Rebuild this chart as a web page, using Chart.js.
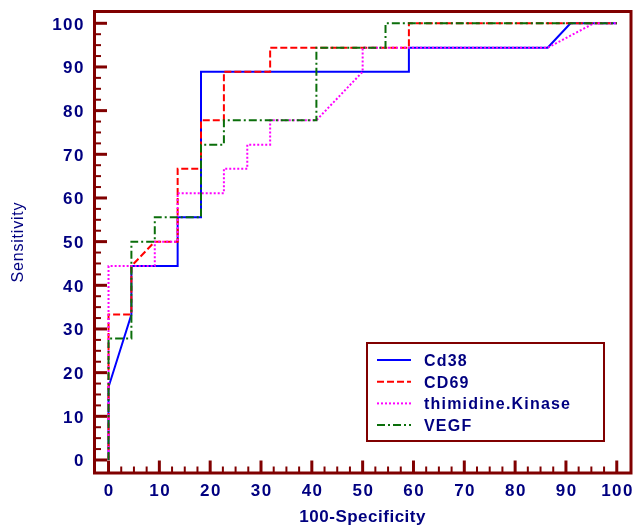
<!DOCTYPE html>
<html>
<head>
<meta charset="utf-8">
<script src="https://cdn.jsdelivr.net/npm/chart.js@4"></script>
<style>
    body { margin: 0; background: #ffffff; }
    canvas { display: block; }
</style>
</head>
<body>
<canvas id="myChart" width="633" height="526"></canvas>
<script>
// series names, as in the legend
const seriesNames = ["Cd38", "CD69", "thimidine.Kinase", "VEGF"];

// 100-Specificity (x) and Sensitivity (y) of each ROC curve
const cd38X = [0, 0, 4.5, 4.5, 13.6, 13.6, 18.2, 18.2, 59.1, 59.1, 86.4, 90.9, 100];
const cd38Y = [0, 16.7, 33.3, 44.4, 44.4, 55.6, 55.6, 88.9, 88.9, 94.4, 94.4, 100, 100];

const cd69X = [0, 0, 4.5, 4.5, 9.1, 13.6, 13.6, 18.2, 18.2, 22.7, 22.7, 31.8, 31.8, 59.1, 59.1, 100];
const cd69Y = [0, 33.3, 33.3, 44.4, 50, 50, 66.7, 66.7, 77.8, 77.8, 88.9, 88.9, 94.4, 94.4, 100, 100];

const tkX = [0, 0, 9.1, 9.1, 13.6, 13.6, 22.7, 22.7, 27.3, 27.3, 31.8, 31.8, 40.9, 50, 50, 86.4, 95.5, 100];
const tkY = [0, 44.4, 44.4, 50, 50, 61.1, 61.1, 66.7, 66.7, 72.2, 72.2, 77.8, 77.8, 88.9, 94.4, 94.4, 100, 100];

const vegfX = [0, 0, 4.5, 4.5, 9.1, 9.1, 18.2, 18.2, 22.7, 22.7, 40.9, 40.9, 54.5, 54.5, 100];
const vegfY = [0, 27.8, 27.8, 50, 50, 55.6, 55.6, 72.2, 72.2, 77.8, 77.8, 94.4, 94.4, 100, 100];

// tick labels on both axes
const tickLabels = [0, 10, 20, 30, 40, 50, 60, 70, 80, 90, 100];

const frameColor = "#800000";
const textColor = "#000080";
const labelFont = "bold 17px 'Liberation Sans', Arial, sans-serif";

function toPoints(xs, ys) {
    return xs.map((x, i) => ({ x: x, y: ys[i] }));
}

// frame, inward ticks, tick labels, axis titles and the boxed legend
const framePlugin = {
    id: "frame",
    afterDraw(chart) {
        const ctx = chart.ctx;
        const area = chart.chartArea;
        const xScale = chart.scales.x;
        const yScale = chart.scales.y;

        ctx.save();
        ctx.strokeStyle = frameColor;
        ctx.lineWidth = 3;
        ctx.strokeRect(area.left, area.top, area.right - area.left, area.bottom - area.top);

        for (let v = 0; v <= 100; v += 2.5) {
            const major = v % 10 === 0;
            const len = major ? 12.5 : 6.5;
            ctx.lineWidth = major ? 3 : 2;
            const px = xScale.getPixelForValue(v);
            ctx.beginPath();
            ctx.moveTo(px, area.bottom);
            ctx.lineTo(px, area.bottom - len);
            ctx.stroke();
            const py = yScale.getPixelForValue(v);
            ctx.beginPath();
            ctx.moveTo(area.left, py);
            ctx.lineTo(area.left + len, py);
            ctx.stroke();
        }

        ctx.fillStyle = textColor;
        ctx.font = labelFont;
        ctx.letterSpacing = "1.5px";
        ctx.textBaseline = "alphabetic";
        tickLabels.forEach((t) => {
            ctx.textAlign = "center";
            ctx.fillText(String(t), xScale.getPixelForValue(t) + 0.8, 496);
            ctx.textAlign = "right";
            ctx.fillText(String(t), 85, yScale.getPixelForValue(t) + 6.5);
        });

        ctx.textAlign = "center";
        ctx.letterSpacing = "0.5px";
        ctx.fillText("100-Specificity", xScale.getPixelForValue(50), 522);

        ctx.save();
        ctx.translate(23, 242);
        ctx.rotate(-Math.PI / 2);
        ctx.font = "16px 'Liberation Sans', Arial, sans-serif";
        ctx.letterSpacing = "0.8px";
        ctx.fillText("Sensitivity", 0, 0);
        ctx.restore();

        // legend box
        ctx.strokeStyle = frameColor;
        ctx.lineWidth = 2;
        ctx.strokeRect(367, 343, 237, 98);
        ctx.font = "bold 16px 'Liberation Sans', Arial, sans-serif";
        ctx.letterSpacing = "1.2px";
        ctx.textAlign = "left";
        chart.data.datasets.forEach((ds, i) => {
            const rowY = 360 + i * 21.7;
            ctx.save();
            ctx.strokeStyle = ds.borderColor;
            ctx.lineWidth = 2;
            ctx.setLineDash(ds.borderDash || []);
            ctx.beginPath();
            ctx.moveTo(377, rowY);
            ctx.lineTo(411, rowY);
            ctx.stroke();
            ctx.restore();
            ctx.fillText(ds.label, 424, rowY + 6);
        });
        ctx.restore();
    },
};

new Chart(document.querySelector("#myChart"), {
    type: "scatter",
    data: {
        datasets: [
            {
                label: seriesNames[0],
                data: toPoints(cd38X, cd38Y),
                borderColor: "#0000ff",
                borderWidth: 2,
                order: 4,
            },
            {
                label: seriesNames[1],
                data: toPoints(cd69X, cd69Y),
                borderColor: "#ff0000",
                borderWidth: 2,
                borderDash: [7, 3],
                order: 3,
            },
            {
                label: seriesNames[2],
                data: toPoints(tkX, tkY),
                borderColor: "#ff00ff",
                borderWidth: 2,
                borderDash: [2, 2],
                order: 2,
            },
            {
                label: seriesNames[3],
                data: toPoints(vegfX, vegfY),
                borderColor: "#0a6e0a",
                borderWidth: 2,
                borderDash: [8, 3, 2, 3],
                order: 1,
            },
        ],
    },
    options: {
        responsive: false,
        animation: false,
        showLine: true,
        elements: {
            point: { radius: 0, hoverRadius: 0 },
            line: { tension: 0, fill: false },
        },
        layout: {
            padding: { left: 94.5, top: 11.5, right: 2, bottom: 53 },
        },
        scales: {
            x: { type: "linear", display: false, min: -2.76, max: 102.8 },
            y: { type: "linear", display: false, min: -2.98, max: 102.7 },
        },
        plugins: {
            legend: { display: false },
            tooltip: { enabled: false },
        },
    },
    plugins: [framePlugin],
});
</script>
</body>
</html>
